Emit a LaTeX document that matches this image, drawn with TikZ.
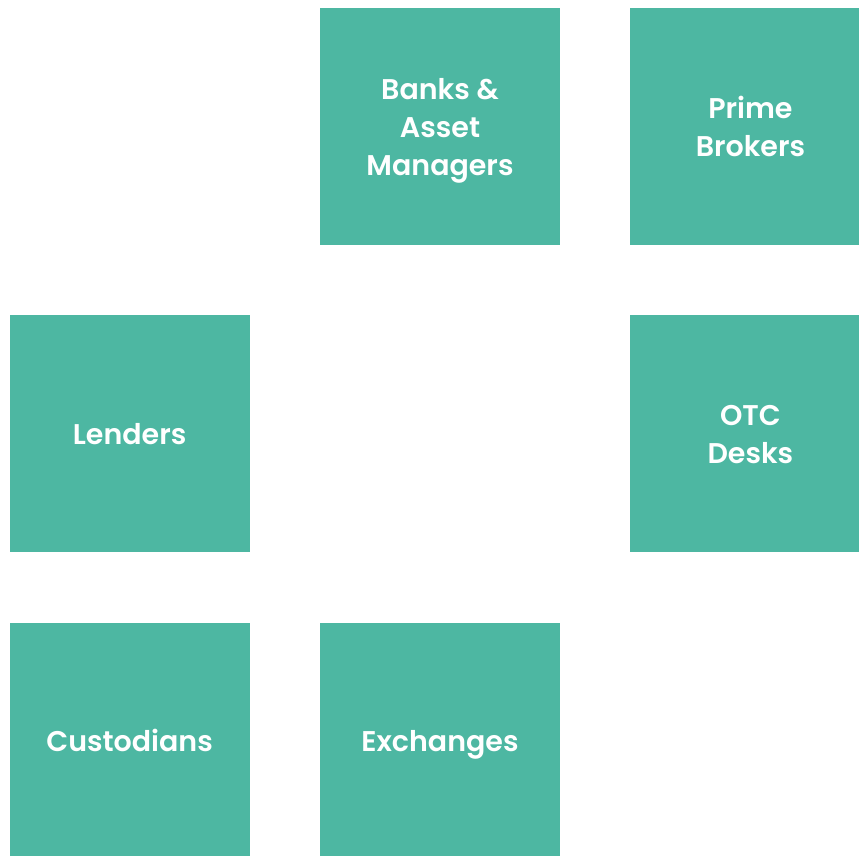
\documentclass[tikz,border=0pt]{standalone}
\usepackage{fontspec}
\setmainfont{Poppins}[BoldFont={Poppins SemiBold}]
\usetikzlibrary{positioning}
\definecolor{mteal}{RGB}{77,183,162}
\newcommand{\tstrut}{\rule[-8.4pt]{0pt}{38pt}}

\begin{document}
\begin{tikzpicture}[x=1pt,y=1pt,
                    tile/.style={fill=mteal,text=white,minimum width=240pt,minimum height=237pt,
                    inner sep=0pt,align=center,font=\fontsize{28.5}{38}\selectfont\bfseries},
                    node distance=70pt
]
\clip (0,0) rectangle (859,-856);
\useasboundingbox (0,0) rectangle (859,-856);
\node[tile] (banks) at (440,-126.5) {\tstrut Banks \&\\\tstrut Asset\\\tstrut Managers};
\node[tile,right=of banks] (prime) {\tstrut Prime\\\tstrut Brokers};
\node[tile,below left=70pt and 70pt of banks] (lenders) {\tstrut Lenders};
\node[tile,below=of prime] (otc) {\tstrut OTC\\\tstrut Desks};
\node[tile,below=of lenders] (cust) {\tstrut Custodians};
\node[tile,right=of cust] (exch) {\tstrut Exchanges};
\end{tikzpicture}
\end{document}
